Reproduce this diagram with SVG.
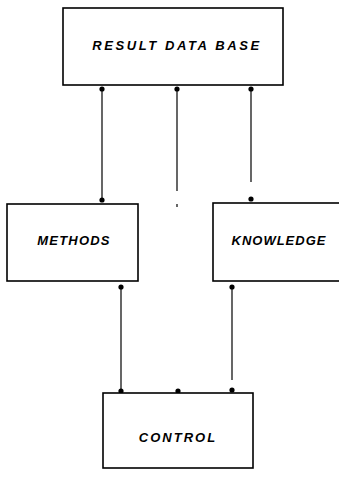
<svg xmlns="http://www.w3.org/2000/svg" width="339" height="480" viewBox="0 0 339 480">
<style>
.box{fill:#fff;stroke:#000;stroke-width:1.6}
.lbl{font-family:"Liberation Sans",Arial,sans-serif;font-style:italic;font-weight:bold;font-size:13px;text-anchor:middle;fill:#000}
.ln{stroke:#000;stroke-width:1.2;fill:none}
.dot{fill:#000}
</style>
<rect width="339" height="480" fill="#fff"/>
<g id="connectors">
<line class="ln" x1="102" y1="88" x2="102" y2="200"/>
<circle class="dot" cx="102" cy="89" r="2.6"/>
<circle class="dot" cx="102" cy="200" r="2.6"/>
<line class="ln" x1="177" y1="88" x2="177" y2="191"/>
<circle class="dot" cx="177" cy="89" r="2.6"/>
<line class="ln" x1="177" y1="204" x2="177" y2="207"/>
<line class="ln" x1="251" y1="88" x2="251" y2="182"/>
<circle class="dot" cx="251" cy="89" r="2.6"/>
<circle class="dot" cx="251" cy="199" r="2.6"/>
<line class="ln" x1="121" y1="286" x2="121" y2="390"/>
<circle class="dot" cx="121" cy="287" r="2.6"/>
<circle class="dot" cx="121" cy="391" r="2.6"/>
<circle class="dot" cx="178" cy="391" r="2.6"/>
<line class="ln" x1="232" y1="286" x2="232" y2="380"/>
<circle class="dot" cx="232" cy="287" r="2.6"/>
<circle class="dot" cx="232" cy="390" r="2.6"/>
</g>
<g id="result-data-base">
<rect class="box" x="63" y="8" width="220" height="77"/>
<text class="lbl" x="177" y="50" letter-spacing="2.6" font-size="13.5" font-weight="normal">RESULT DATA BASE</text>
</g>
<g id="methods">
<rect class="box" x="7" y="204" width="131" height="77"/>
<text class="lbl" x="74" y="245" letter-spacing="1.2" font-size="15">METHODS</text>
</g>
<g id="knowledge">
<rect class="box" x="213" y="203" width="140" height="78"/>
<text class="lbl" x="279" y="245" letter-spacing="1" font-size="15">KNOWLEDGE</text>
</g>
<g id="control">
<rect class="box" x="103" y="393" width="150" height="75"/>
<text class="lbl" x="178" y="442" letter-spacing="2" font-size="14" font-weight="normal">CONTROL</text>
</g>
</svg>
